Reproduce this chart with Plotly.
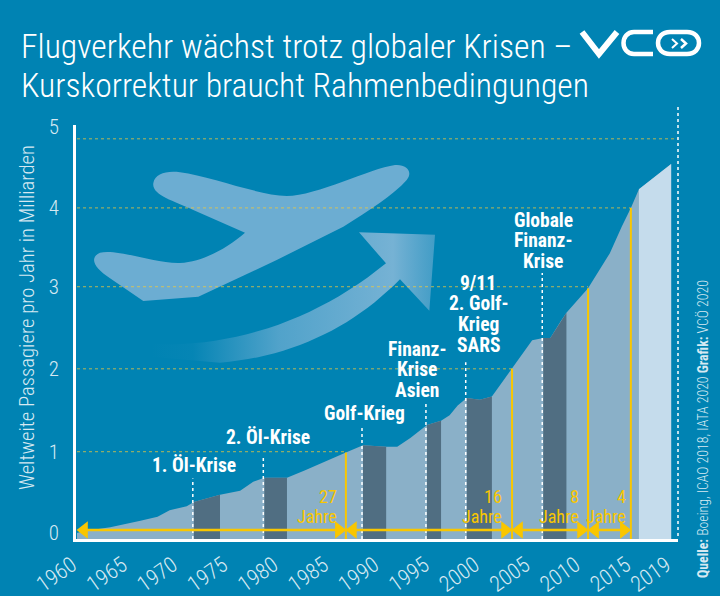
import numpy as np
import plotly.graph_objects as go

W, H = 720, 596

# passengers per year in billions
years = [1960, 1960.6, 1963.3, 1966.3, 1968, 1969.2, 1970.9, 1971.6, 1974.2, 1976.2, 1977.5, 1978.6,
         1980.85, 1982.6, 1985.1, 1986.7, 1988.4, 1990.7, 1991.8, 1993.1, 1994.75, 1996.15, 1997,
         1997.8, 1998.7, 2000, 2001.2, 2002, 2003.2, 2004.2, 2005.2, 2006.3, 2007, 2008, 2008.6,
         2010.75, 2011.7, 2012.9, 2014.1, 2015, 2015.8, 2019]
passengers = [0, 0.02, 0.07, 0.15, 0.20, 0.28, 0.33, 0.38, 0.47, 0.52, 0.63, 0.68,
              0.68, 0.77, 0.91, 0.99, 1.08, 1.06, 1.06, 1.17, 1.33, 1.38, 1.45,
              1.57, 1.66, 1.64, 1.68, 1.82, 2.02, 2.21, 2.37, 2.40, 2.40, 2.60, 2.71,
              3.01, 3.20, 3.44, 3.77, 4.00, 4.23, 4.54]

# crises: start/end of the dark band, top of the dashed marker
crisis_start = [1971.6, 1978.6, 1988.4, 1994.75, 1998.7, 2006.3]
crisis_end = [1974.2, 1980.85, 1990.7, 1996.15, 2001.2, 2008.6]
crisis_top = [0.67, 0.95, 1.31, 1.60, 2.10, 3.20]
crisis_labels = [["1. Öl-Krise"], ["2. Öl-Krise"], ["Golf-Krieg"], ["Finanz-", "Krise", "Asien"],
                 ["9/11", "2. Golf-", "Krieg", "SARS"], ["Globale", "Finanz-", "Krise"]]
crisis_label_x = [194, 268, 364, 417, 478, 543]
crisis_label_y = [465, 437, 413, 349, 283, 220]

# years at which each further billion was reached
milestone_years = [1986.7, 2003.2, 2010.75, 2015]
milestone_values = [0.99, 2.02, 3.01, 4.00]
milestone_text = ["27", "16", "8", "4"]
milestone_text_x = [339, 504, 581, 628]

grid_levels = [1, 2.02, 3.03, 4, 4.85]
grid_ends = [1986.7, 2003.2, 2010.75, 2015, 2019.68]
y_ticks = [0, 1, 2.02, 3.03, 4, 5.0]
y_ticktext = ["0", "1", "2", "3", "4", "5"]
x_ticks = [1960, 1965, 1970, 1975, 1980, 1985, 1990, 1995, 2000, 2005, 2010, 2015, 2019]

BG = "#0083B3"
AREA = "#8AB0C8"
DARK = "#506E82"
LIGHT = "#C5DCEC"
YELLOW = "#F9C600"
PALE = "#D6E9F2"
PLANE = "#6CADD2"
NARROW = "'Roboto Condensed', 'Open Sans Condensed', 'Open Sans', sans-serif"
FLOOR = -0.074
ARROW_Y = 0.037


def zp(u, v):
    # plane and arrow outlines were traced on a 3x crop starting at (60, 140)
    return 60 + u / 3, 140 + v / 3


def bezier(p0, p1, p2, p3, n=24):
    t = np.linspace(0, 1, n)[:, None]
    p0, p1, p2, p3 = map(np.array, (p0, p1, p2, p3))
    return (1 - t) ** 3 * p0 + 3 * (1 - t) ** 2 * t * p1 + 3 * (1 - t) * t ** 2 * p2 + t ** 3 * p3


fig = go.Figure()

# background decoration, in page pixels on the x/y axes
plane = [("M", (280, 130)),
         ("C", (285, 100), (320, 92), (360, 97)),
         ("C", (450, 108), (590, 165), (680, 168)),
         ("C", (770, 168), (930, 85), (1005, 75)),
         ("C", (1040, 72), (1060, 95), (1040, 120)),
         ("C", (1000, 165), (930, 210), (850, 260)),
         ("L", (650, 360)), ("L", (415, 470)), ("L", (250, 483)),
         ("L", (150, 415)),
         ("C", (105, 385), (85, 355), (120, 338)),
         ("C", (170, 325), (290, 372), (360, 369)),
         ("C", (430, 365), (500, 325), (555, 278)),
         ("L", (400, 210)),
         ("C", (340, 182), (275, 165), (280, 130))]
plane_path = ""
for item in plane:
    if item[0] == "L" or item[0] == "M":
        x, y = zp(*item[1])
        plane_path += f"{item[0]}{x:.1f},{y:.1f} "
    else:
        pts = " ".join("%.1f,%.1f" % zp(*p) for p in item[1:])
        plane_path += f"C{pts} "
plane_path += "Z"

arrow_lower = bezier((1020, 418), (880, 560), (700, 650), (480, 668))
arrow_upper = bezier((270, 612), (520, 625), (770, 540), (978, 370))
arrow_pts = np.vstack([[(897, 277), (1125, 284), (1108, 512)], arrow_lower, [(270, 650)], arrow_upper])
arrow_x = 60 + arrow_pts[:, 0] / 3
arrow_y = 140 + arrow_pts[:, 1] / 3
fig.add_trace(go.Scatter(
    x=arrow_x, y=arrow_y, mode="lines", line=dict(width=0), fill="toself",
    fillgradient=dict(type="horizontal", start=150, stop=436,
                      colorscale=[[0, "rgba(108,173,210,0)"], [0.15, "rgba(108,173,210,0.05)"],
                                  [0.45, "rgba(108,173,210,0.75)"], [0.85, "rgba(118,178,212,1)"],
                                  [1, "rgba(108,173,210,0.6)"]]),
    xaxis="x", yaxis="y"))

# data, on the x2/y2 axes
fig.add_trace(go.Scatter(
    x=[years[0]] + years + [years[-1]], y=[FLOOR] + passengers + [FLOOR],
    mode="lines", line=dict(width=0), fill="toself", fillcolor=AREA, xaxis="x2", yaxis="y2"))


def band(start, end, color):
    i, j = years.index(start), years.index(end)
    fig.add_trace(go.Scatter(
        x=[start] + years[i:j + 1] + [end], y=[FLOOR] + passengers[i:j + 1] + [FLOOR],
        mode="lines", line=dict(width=0), fill="toself", fillcolor=color, xaxis="x2", yaxis="y2"))


for s, e in zip(crisis_start, crisis_end):
    band(s, e, DARK)
band(2015.8, 2019, LIGHT)

for level, end in zip(grid_levels, grid_ends):
    fig.add_trace(go.Scatter(x=[1960, end], y=[level, level], mode="lines",
                             line=dict(color="rgba(240,200,60,0.75)", width=1, dash="dot"),
                             xaxis="x2", yaxis="y2"))

for s, top in zip(crisis_start, crisis_top):
    fig.add_trace(go.Scatter(x=[s - 0.1, s - 0.1], y=[FLOOR, top], mode="lines",
                             line=dict(color="white", width=1.5, dash="3px,3px"),
                             xaxis="x2", yaxis="y2"))

for yr, val in zip(milestone_years, milestone_values):
    fig.add_trace(go.Scatter(x=[yr, yr], y=[FLOOR, val], mode="lines",
                             line=dict(color=YELLOW, width=2), xaxis="x2", yaxis="y2"))

# yellow arrows between the milestones
edges = [1960] + milestone_years
for a, b in zip(edges[:-1], edges[1:]):
    fig.add_trace(go.Scatter(x=[a + 0.6, b - 0.6], y=[ARROW_Y, ARROW_Y], mode="lines",
                             line=dict(color=YELLOW, width=2.5), xaxis="x2", yaxis="y2"))
    fig.add_trace(go.Scatter(x=[a + 0.7], y=[ARROW_Y], mode="markers",
                             marker=dict(symbol="triangle-left", size=15, color=YELLOW),
                             xaxis="x2", yaxis="y2"))
    fig.add_trace(go.Scatter(x=[b - 0.7], y=[ARROW_Y], mode="markers",
                             marker=dict(symbol="triangle-right", size=15, color=YELLOW),
                             xaxis="x2", yaxis="y2"))


def label(x, y, text, size, color="white", anchor="center", angle=0, weight=400):
    fig.add_annotation(x=x, y=y, xref="x", yref="y", text=text, showarrow=False, xanchor=anchor,
                       yanchor="middle", textangle=angle,
                       font=dict(family=NARROW, size=size, color=color, weight=weight))


label(19, 46, "Flugverkehr wächst trotz globaler Krisen –", 33.7, anchor="left", weight=300)
label(19, 85, "Kurskorrektur braucht Rahmenbedingungen", 33.7, anchor="left", weight=300)

for lines, x, y in zip(crisis_labels, crisis_label_x, crisis_label_y):
    for k, line in enumerate(lines):
        label(x, y + k * 20.8, f"<b>{line}</b>", 19.5)

for txt, x in zip(milestone_text, milestone_text_x):
    label(x, 496, txt, 18, YELLOW, "right")
    label(x, 516, "Jahre", 18, YELLOW, "right")

label(27, 318, "Weltweite Passagiere pro Jahr in Milliarden", 20.7, PALE, angle=-90, weight=300)
label(703, 429, "<b>Quelle:</b> Boeing, ICAO 2018, IATA 2020 <b>Grafik:</b> VCÖ 2020", 13.8, PALE, angle=-90, weight=300)

shapes = [
    dict(type="path", path=plane_path, fillcolor=PLANE, line=dict(width=0), layer="below",
         xref="x", yref="y"),
    # dashed line at the right end of the chart
    dict(type="line", x0=678, x1=678, y0=107, y1=539, xref="x", yref="y",
         line=dict(color="white", width=1.5, dash="3px,3px")),
    # logo
    dict(type="path", path="M582,32 L599,54 L617,32", xref="x", yref="y",
         line=dict(color="white", width=6)),
    dict(type="path", path="M653,54 L634,54 C620,54 620,32 634,32 L653,32", xref="x", yref="y",
         line=dict(color="white", width=4.5)),
    dict(type="path", path="M670,32 L687,32 C703,32 703,54 687,54 L670,54 C654,54 654,32 670,32 Z",
         xref="x", yref="y", line=dict(color="white", width=4.5)),
    dict(type="path", path="M672,39 L677,43.5 L672,48", xref="x", yref="y",
         line=dict(color="white", width=2)),
    dict(type="path", path="M681,39 L686,43.5 L681,48", xref="x", yref="y",
         line=dict(color="white", width=2.5)),
]

tick_font = dict(family=NARROW, size=21, color=PALE, weight=300)
fig.update_layout(
    width=W, height=H, margin=dict(l=0, r=0, t=0, b=0, autoexpand=False), autosize=False,
    paper_bgcolor=BG, plot_bgcolor="rgba(0,0,0,0)", showlegend=False, shapes=shapes,
    xaxis=dict(domain=[0, 1], range=[0, W], visible=False, fixedrange=True, anchor="y"),
    yaxis=dict(domain=[0, 1], range=[H, 0], visible=False, fixedrange=True, anchor="x"),
    xaxis2=dict(anchor="y2", domain=[76 / W, 678 / W], range=[1959.9, 2019.68],
                tickmode="array", tickvals=x_ticks, ticktext=[str(v) for v in x_ticks], showgrid=False,
                showline=True, linecolor="white", linewidth=2.5, zeroline=False, tickangle=-35, ticks="",
                ticklabelstandoff=2, ticklabelshift=-5, tickfont=dict(tick_font, size=22), automargin=False),
    yaxis2=dict(anchor="x2", domain=[1 - 539 / H, 1 - 125 / H], range=[FLOOR, 5.02], showgrid=False,
                tickmode="array", tickvals=y_ticks, ticktext=y_ticktext, showline=True,
                linecolor="white", linewidth=2.5, zeroline=False, ticks="", ticklabelstandoff=10,
                tickfont=tick_font, automargin=False),
)

fig.write_html("out.html", config=dict(displayModeBar=False),
               post_script="document.body.style.margin='0';")
